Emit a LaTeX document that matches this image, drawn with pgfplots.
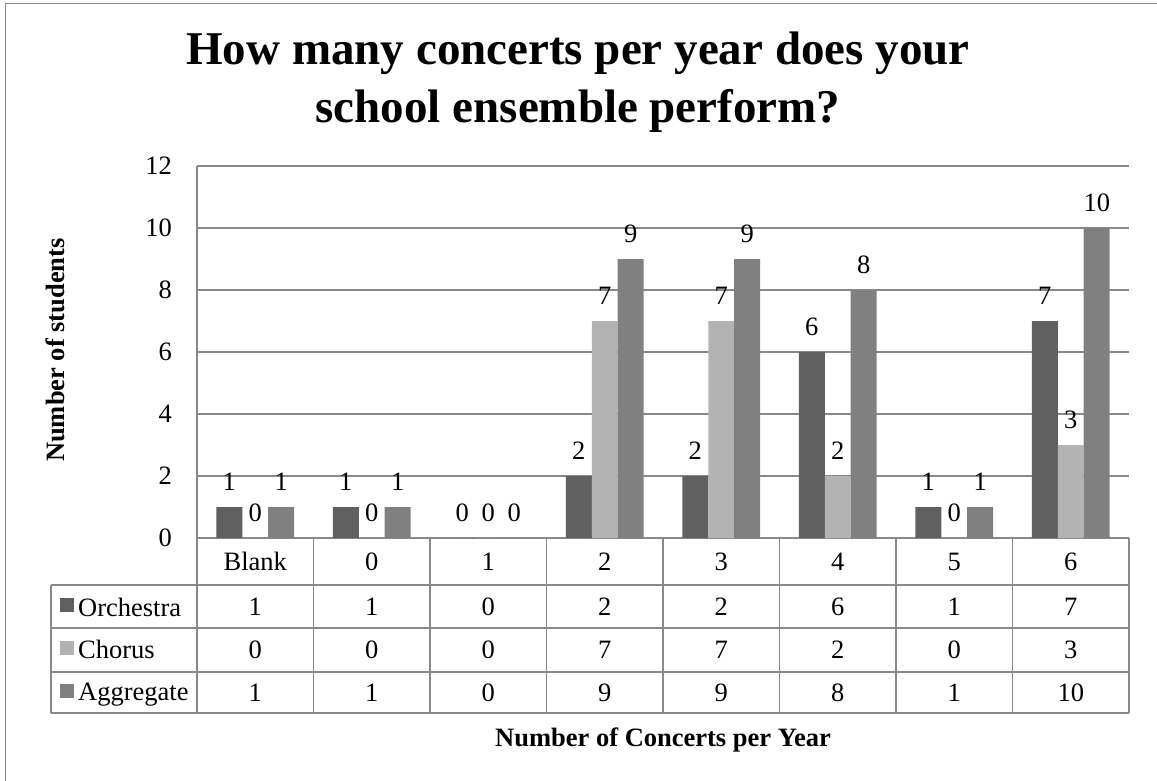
\documentclass[border=0pt]{standalone}
\usepackage{fontspec}
\setmainfont{Liberation Serif}
\usepackage{pgfplots}
\usepackage{pgfplotstable}
\pgfplotsset{compat=1.18}
\definecolor{orch}{HTML}{606060}
\definecolor{chor}{HTML}{B3B3B3}
\definecolor{aggr}{HTML}{808080}
\definecolor{gridc}{HTML}{898989}
\pgfplotstableread{
x orch chor aggr
0 1 0 1
1 1 0 1
2 0 0 0
3 2 7 9
4 2 7 9
5 6 2 8
6 1 0 1
7 7 3 10
}\data
\newcommand{\tfont}{\fontsize{26.5}{30}\selectfont}
\newcommand{\lfont}{\fontsize{26.5}{30}\selectfont\bfseries}
\begin{document}
\begin{tikzpicture}[x=1pt,y=1pt]
\useasboundingbox (0,0) rectangle (1157,-780);
\draw[gridc, line width=1.5pt] (5.5,-790) -- (5.5,-3.5) -- (1170,-3.5);
\node[font=\fontsize{47}{56}\selectfont\bfseries, anchor=base] at (578,-64) {How many concerts per year does your};
\node[font=\fontsize{47}{56}\selectfont\bfseries, anchor=base] at (578,-122) {school ensemble perform?};
\begin{axis}[
  at={(197pt,-538pt)}, anchor=south west,
  width=932pt, height=372pt, scale only axis,
  xmin=-0.5, xmax=7.5, ymin=0, ymax=12,
  ytick={0,2,...,12},
  yticklabel={\pgfmathprintnumber{\tick}},
  xtick={0,...,7}, xticklabels={Blank,0,1,2,3,4,5,6},
  major tick length=0pt,
  axis x line*=bottom, axis y line*=left,
  axis line style={gridc, line width=1.5pt, -},
  ymajorgrids, grid style={gridc, line width=1.5pt},
  clip=false,
  tick label style={font=\tfont},
  /pgf/number format/assume math mode=true,
  yticklabel style={anchor=east, inner sep=0pt, xshift=-25pt},
  xticklabel style={anchor=center, inner sep=0pt, yshift=-23.5pt},
  nodes near coords={\pgfmathprintnumber{\pgfplotspointmeta}},
  every node near coord/.append style={font=\tfont, inner sep=0pt},
]
\addplot[ybar, bar width=0.223, bar shift=-0.223, fill=orch, draw=none,
  nodes near coords, nodes near coords style={anchor=south, yshift=16pt, xshift=-26pt}] table[x=x,y=orch]{\data};
\addplot[ybar, bar width=0.223, bar shift=0, fill=chor, draw=none,
  nodes near coords, nodes near coords style={anchor=south, yshift=16pt}] table[x=x,y=chor]{\data};
\addplot[ybar, bar width=0.223, bar shift=0.223, fill=aggr, draw=none,
  nodes near coords, nodes near coords style={anchor=south, yshift=16pt, xshift=26pt}] table[x=x,y=aggr]{\data};
\addplot[draw=none, mark=none, nodes near coords, point meta=explicit,
  nodes near coords style={anchor=center}] table[x=x, y expr=-2.21, meta=orch]{\data};
\addplot[draw=none, mark=none, nodes near coords, point meta=explicit,
  nodes near coords style={anchor=center}] table[x=x, y expr=-3.61, meta=chor]{\data};
\addplot[draw=none, mark=none, nodes near coords, point meta=explicit,
  nodes near coords style={anchor=center}] table[x=x, y expr=-4.98, meta=aggr]{\data};
\end{axis}
% data table grid
\begin{scope}[gridc, line width=1.5pt]
\draw (51,-585) -- (1129,-585);
\draw (51,-628) -- (1129,-628);
\draw (51,-672) -- (1129,-672);
\draw (51,-713) -- (1129,-713);
\draw (51,-585) -- (51,-713);
\foreach \k in {0,...,8} \draw ({197+116.5*\k},-538) -- ({197+116.5*\k},-713);
\end{scope}
% legend keys
\fill[orch] (60,-598) rectangle (74,-612);
\fill[chor] (60,-641) rectangle (74,-655);
\fill[aggr] (60,-684) rectangle (74,-698);
\node[font=\tfont, anchor=base west, inner sep=0pt] at (78,-616) {Orchestra};
\node[font=\tfont, anchor=base west, inner sep=0pt] at (78,-658) {Chorus};
\node[font=\tfont, anchor=base west, inner sep=0pt] at (78,-700) {Aggregate};
% axis titles
\node[font=\lfont, anchor=base] at (663,-746) {Number of Concerts per Year};
\node[font=\lfont, anchor=base, rotate=90] at (64,-350) {Number of students};
\end{tikzpicture}
\end{document}
